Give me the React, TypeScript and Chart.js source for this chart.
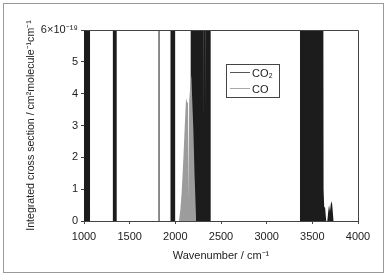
import React, { useEffect, useRef } from "react";
import { Chart, registerables } from "chart.js";

Chart.register(...registerables);

// CO2 absorption envelope (cross section, units of 1e-19 cm^2 molecule^-1 cm^-1; values > 6 run off scale)
const co2Wavenumber = [
  1000, 1000, 1066, 1066,
  1316, 1316, 1358, 1358,
  1816, 1816, 1827, 1827,
  1947, 1947, 1998, 1998,
  2168, 2168, 2304, 2305, 2307, 2308, 2330, 2331, 2333, 2334, 2387, 2387,
  3365, 3365, 3620, 3623, 3630, 3640, 3652,
  3664, 3676, 3683, 3693, 3703, 3710, 3718, 3732, 4000,
];
const co2Cross = [
  0, 8, 8, 0,
  0, 8, 8, 0,
  0, 8, 8, 0,
  0, 8, 8, 0,
  0, 8, 8, 3.0, 3.0, 8, 8, 3.3, 3.3, 8, 8, 0,
  0, 8, 8, 1.0, 0.45, 0.42, 0,
  0, 0.35, 0.5, 0.3, 0.55, 0.62, 0.5, 0, 0,
];

// CO fundamental band (P and R branches)
const coWavenumber = [
  2040, 2055, 2069, 2087, 2103, 2117, 2128, 2139, 2141, 2149, 2151, 2163, 2175, 2185, 2197, 2210, 2228,
];
const coCross = [
  0, 0.35, 0.88, 1.9, 2.96, 3.86, 3.75, 3.7, 0.65, 0.65, 3.75, 4.2, 4.59, 3.8, 2.9, 1.5, 0,
];

const yTickLabels = ["0", "1", "2", "3", "4", "5", "6×10⁻¹⁹"];
const seriesNames = ["CO₂", "CO"];
const seriesColors = ["#1c1c1c", "#9c9c9c"];
const legendLineColors = ["#555555", "#aaaaaa"];

const FONT = "'Liberation Sans', Arial, Helvetica, sans-serif";

export default function App() {
  const ref = useRef<HTMLCanvasElement | null>(null);

  useEffect(() => {
    if (!ref.current) return;
    Chart.defaults.font.family = FONT;

    const framePlugin = {
      id: "frames",
      beforeDraw(chart: any) {
        const ctx = chart.ctx;
        ctx.save();
        ctx.fillStyle = "#ffffff";
        ctx.fillRect(0, 0, chart.width, chart.height);
        ctx.strokeStyle = "#9a9a9a";
        ctx.lineWidth = 1;
        ctx.strokeRect(3.5, 3.5, 380, 269);
        ctx.restore();
      },
      afterDraw(chart: any) {
        const ctx = chart.ctx;
        const a = chart.chartArea;
        ctx.save();
        ctx.strokeStyle = "#444444";
        ctx.lineWidth = 1;
        ctx.beginPath();
        ctx.moveTo(Math.round(a.left) + 0.5, Math.round(a.top) + 0.5);
        ctx.lineTo(Math.round(a.right) + 0.5, Math.round(a.top) + 0.5);
        ctx.lineTo(Math.round(a.right) + 0.5, Math.round(a.bottom) + 0.5);
        ctx.stroke();

        // legend box
        const bx = 226.5, by = 64.5, bw = 53, bh = 33;
        ctx.fillStyle = "#ffffff";
        ctx.fillRect(bx, by, bw, bh);
        ctx.strokeStyle = "#444444";
        ctx.strokeRect(bx, by, bw, bh);
        const rows = [72.5, 88.5];
        rows.forEach((ry, i) => {
          ctx.strokeStyle = legendLineColors[i];
          ctx.beginPath();
          ctx.moveTo(230, ry);
          ctx.lineTo(250, ry);
          ctx.stroke();
          ctx.fillStyle = "#222222";
          ctx.font = `11px ${FONT}`;
          ctx.textBaseline = "middle";
          ctx.textAlign = "left";
          ctx.fillText(seriesNames[i], 252, ry + 1);
        });
        ctx.restore();
      },
    };

    const chart = new Chart(ref.current, {
      type: "line",
      data: {
        datasets: [
          {
            label: seriesNames[0],
            data: co2Wavenumber.map((x, i) => ({ x, y: co2Cross[i] })),
            borderColor: seriesColors[0],
            backgroundColor: seriesColors[0],
            borderWidth: 0,
            pointRadius: 0,
            fill: "origin",
            tension: 0,
            order: 1,
          },
          {
            label: seriesNames[1],
            data: coWavenumber.map((x, i) => ({ x, y: coCross[i] })),
            borderColor: seriesColors[1],
            backgroundColor: seriesColors[1],
            borderWidth: 0,
            pointRadius: 0,
            fill: "origin",
            tension: 0,
            order: 0,
          },
        ],
      },
      options: {
        responsive: false,
        animation: false,
        devicePixelRatio: 1,
        layout: { padding: { left: 25, top: 30, right: 29, bottom: 13 } },
        plugins: { legend: { display: false }, tooltip: { enabled: false } },
        scales: {
          x: {
            type: "linear",
            min: 1000,
            max: 4000,
            afterFit: (s: any) => { s.height = 42; },
            ticks: {
              stepSize: 500,
              color: "#222",
              font: { size: 11 },
              padding: 6,
              maxRotation: 0,
              callback: (v: any) => String(v),
            },
            grid: { display: true, drawOnChartArea: false, drawTicks: true, tickLength: 3, color: "#444" },
            border: { display: true, color: "#444", width: 1 },
            title: { display: true, text: "Wavenumber / cm⁻¹", color: "#222", font: { size: 11 }, padding: 0 },
          },
          y: {
            min: 0,
            max: 6,
            afterFit: (s: any) => { s.width = 59; },
            ticks: {
              stepSize: 1,
              color: "#222",
              font: { size: 11 },
              padding: 3,
              callback: (v: any) => yTickLabels[Math.round(Number(v))],
            },
            grid: { display: true, drawOnChartArea: false, drawTicks: true, tickLength: 3, color: "#444" },
            border: { display: true, color: "#444", width: 1 },
            title: {
              display: true,
              text: "Integrated cross section / cm²molecule⁻¹cm⁻¹",
              color: "#222",
              font: { size: 10.6 },
              padding: 0,
            },
          },
        },
      },
      plugins: [framePlugin],
    });
    return () => chart.destroy();
  }, []);

  return (
    <div style={{ position: "absolute", left: 0, top: 0, width: 387, height: 276 }}>
      <canvas ref={ref} width={387} height={276} />
    </div>
  );
}
